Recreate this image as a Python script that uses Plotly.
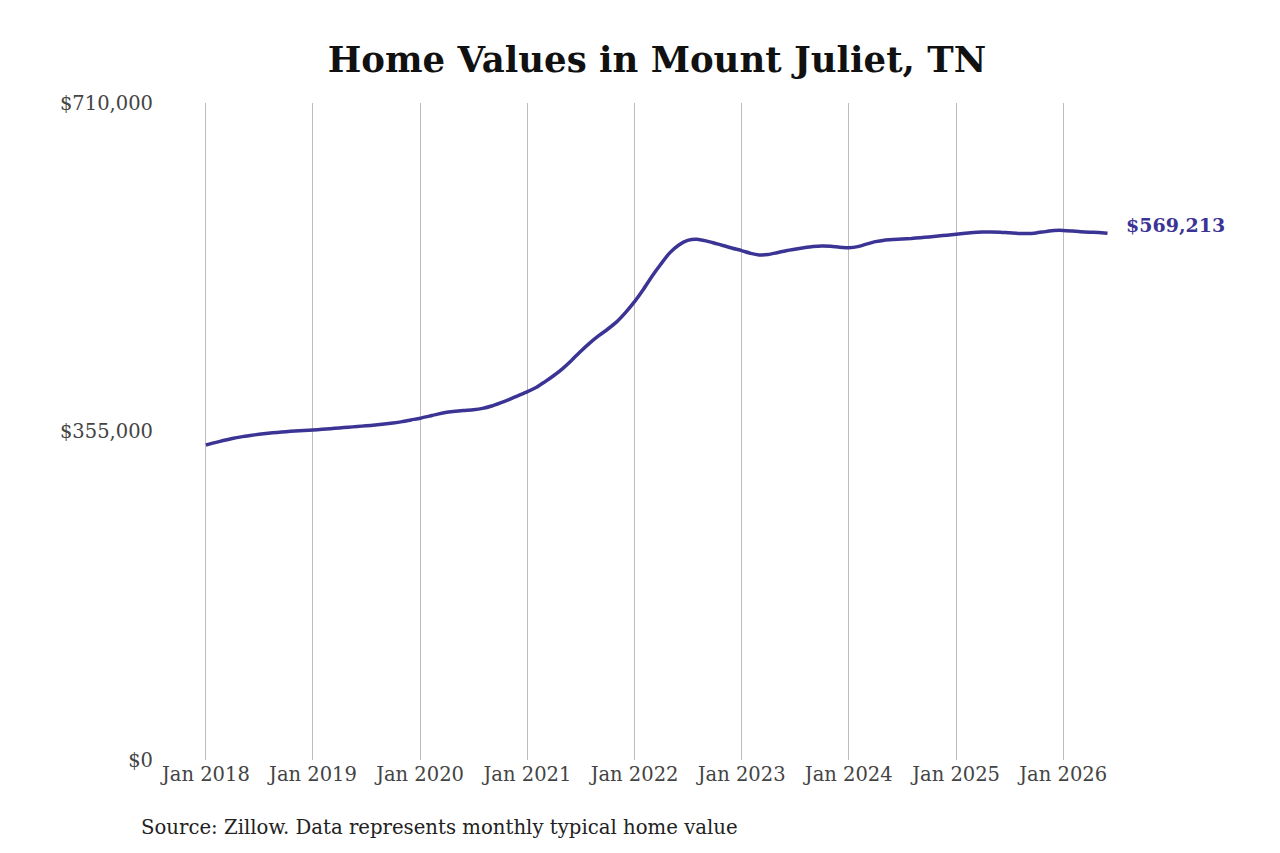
import pandas as pd
import plotly.graph_objects as go

# monthly typical home value, Jan 2018 - Jun 2026
months = pd.date_range("2018-01-01", "2026-06-01", freq="MS")

values_2018 = [340400, 343000, 345200, 347400, 349200, 350700, 352000, 353100, 354000, 354800, 355500, 356100]
values_2019 = [356600, 357300, 358000, 358800, 359600, 360400, 361200, 362000, 363000, 364200, 365700, 367500]
values_2020 = [369300, 371600, 373800, 375800, 377000, 377800, 378500, 380000, 382600, 386000, 389800, 393800]
values_2021 = [398000, 402800, 408600, 415500, 423000, 432000, 441500, 450500, 458500, 465500, 473500, 483500]
values_2022 = [495300, 509000, 522500, 536000, 548000, 556600, 561500, 562700, 561000, 558500, 555800, 553000]
values_2023 = [550500, 547500, 545800, 546200, 548200, 550400, 552000, 553500, 554800, 555500, 555200, 554200]
values_2024 = [553700, 554800, 557500, 560200, 561800, 562500, 563000, 563600, 564500, 565300, 566200, 567200]
values_2025 = [568100, 569200, 570100, 570600, 570700, 570400, 569700, 569100, 568900, 569600, 571000, 572200]
values_2026 = [572300, 571600, 570800, 570300, 570000, 569213]

values = (values_2018 + values_2019 + values_2020 + values_2021 + values_2022
          + values_2023 + values_2024 + values_2025 + values_2026)

tick_dates = pd.date_range("2018-01-01", "2026-01-01", freq="YS")
tick_labels = [f"Jan {d.year}" for d in tick_dates]
y_ticks = [0, 355000, 710000]
y_labels = ["$0", "$355,000", "$710,000"]

LINE = "#3b3494"
FONT = "DejaVu Serif"

fig = go.Figure()
fig.add_trace(go.Scatter(x=months, y=values, mode="lines",
                         line=dict(color=LINE, width=3.5, shape="spline", smoothing=0.6),
                         hoverinfo="x+y", showlegend=False))

# end value label
fig.add_annotation(x=months[-1], y=values[-1], text=f"<b>${values[-1]:,}</b>",
                   showarrow=False, xanchor="left", xshift=16, yshift=8,
                   font=dict(family=FONT, size=19, color=LINE))

fig.add_annotation(x=-0.023, y=-0.1035, xref="paper", yref="paper",
                   text="Source: Zillow. Data represents monthly typical home value",
                   showarrow=False, xanchor="left", yanchor="middle",
                   font=dict(family=FONT, size=19.7, color="#222222"))

fig.update_layout(
    width=1280, height=853,
    margin=dict(l=153, r=167, t=95, b=101),
    paper_bgcolor="white", plot_bgcolor="white",
    font=dict(family=FONT, size=19.5, color="#444444"),
    title=dict(text="<b>Home Values in Mount Juliet, TN</b>", x=0.507, xanchor="center",
               y=0.939, yanchor="middle",
               font=dict(family=FONT, size=35.5, color="#111111")),
    xaxis=dict(range=["2017-08-01", "2026-07-17"], tickvals=tick_dates, ticktext=tick_labels,
               showgrid=True, gridcolor="#bdbdbd", gridwidth=1, zeroline=False,
               showline=False, ticks="", tickfont=dict(size=19.5, color="#444444")),
    yaxis=dict(range=[0, 710000], tickvals=y_ticks, ticktext=y_labels,
               showgrid=False, zeroline=False, showline=False, ticks="",
               ticklabelstandoff=7, tickfont=dict(size=19.5, color="#444444")),
)

fig.write_html("out.html")
